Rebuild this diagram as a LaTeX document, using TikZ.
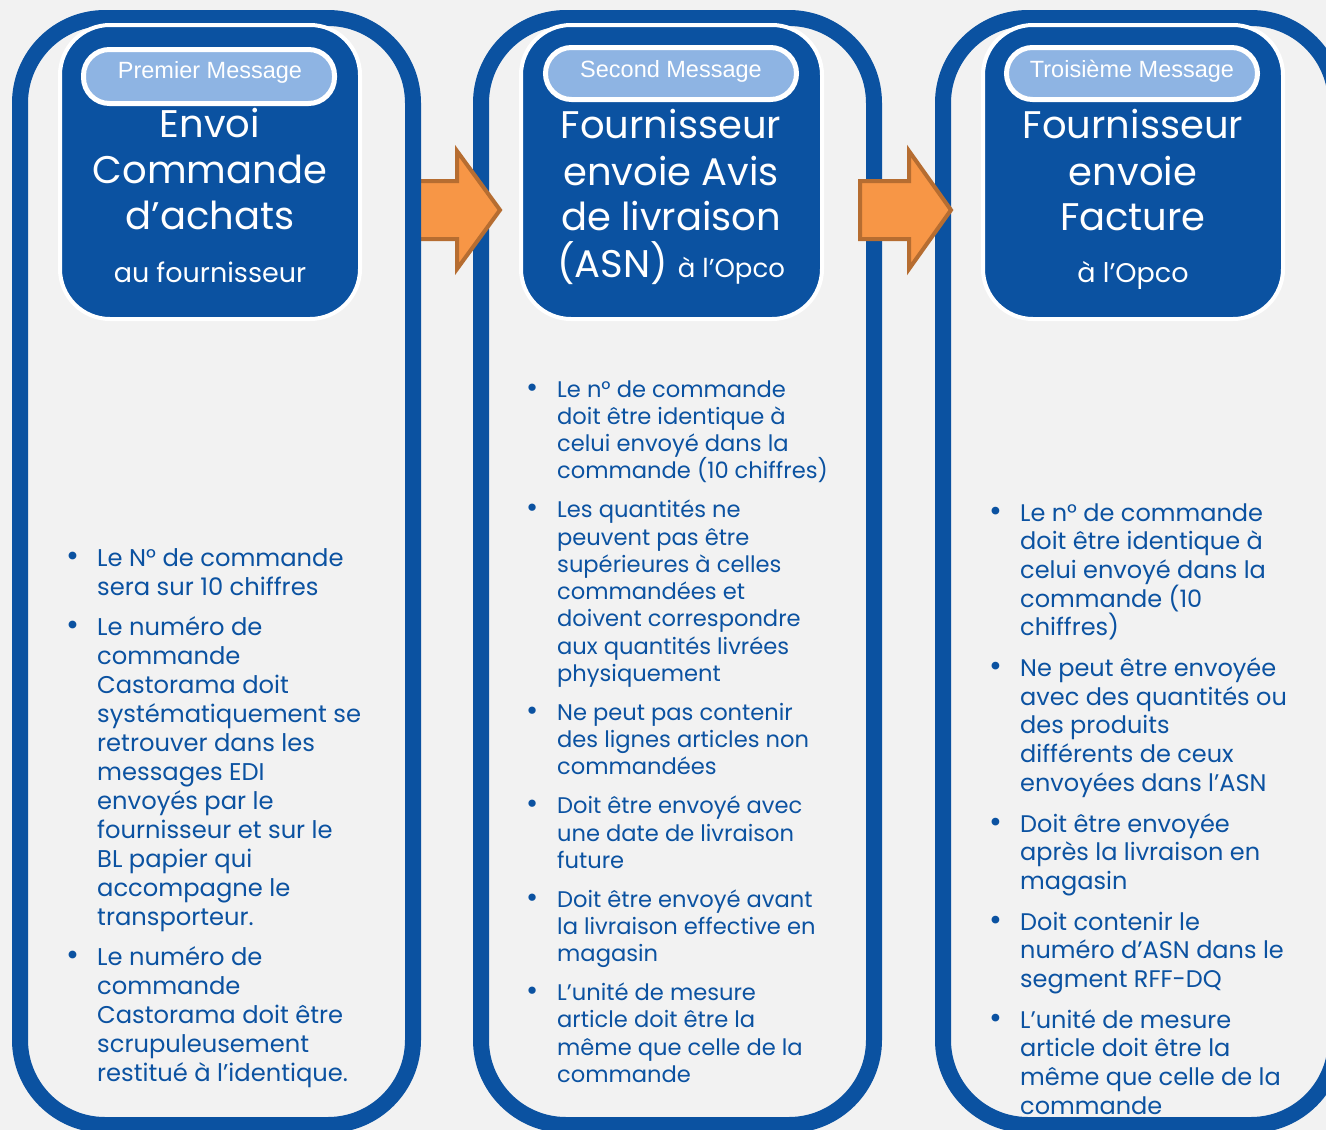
\documentclass[tikz,border=0pt]{standalone}
\usepackage{fontspec}
\setmainfont{Poppins}
\newfontfamily\pillfont{Liberation Sans}
\definecolor{dblue}{HTML}{0B52A1}
\definecolor{lblue}{HTML}{8EB4E3}
\definecolor{bgc}{HTML}{F2F2F2}
\definecolor{orng}{HTML}{F79646}
\definecolor{orngd}{HTML}{B66D31}
\newcommand\bpt{\par\noindent\hangindent=31pt\hangafter=1\makebox[31pt][l]{\scalebox{1.3}{\textbullet}}}
\newcommand\blist[4]{\vtop{\hsize=420pt\parindent=0pt\parskip=#3\fontsize{#1}{#2}\selectfont #4}}
\begin{document}
\begin{tikzpicture}[x=1pt,y=-1pt,
  panel/.style={draw=dblue, line width=16pt, rounded corners=85pt},
  titlebox/.style={fill=dblue, draw=white, line width=4pt, rounded corners=50pt},
  pill/.style={fill=lblue, draw=white, line width=5pt, rounded corners=26pt},
  pilltext/.style={text=white, font=\pillfont\fontsize{23.5}{23.5}\selectfont, anchor=base, inner sep=0pt},
  big/.style={text=white, font=\fontsize{38.5}{38.5}\selectfont, anchor=base, inner sep=0pt},
  small/.style={text=white, font=\fontsize{27}{27}\selectfont, anchor=base, inner sep=0pt},
  arr/.style={fill=orng, draw=orngd, line width=4pt, line join=miter},
  blisttext/.style={text=dblue, anchor=base west, inner sep=0pt}
]
\clip (0,0) rectangle (1326,1130);
\fill[bgc] (0,0) rectangle (1326,1130);
% panels 2 and 3
\draw[panel] (481,18) rectangle (874,1125);
\draw[panel] (943,18) rectangle (1336,1125);
% arrows
\filldraw[arr] (410,181) -- (457,181) -- (457,151) -- (500,210) -- (457,269) -- (457,239) -- (410,239) -- cycle;
\filldraw[arr] (860,181) -- (909,181) -- (909,151) -- (951,210) -- (909,269) -- (909,239) -- (860,239) -- cycle;
% panel 1
\draw[panel] (20,18) rectangle (413,1125);
% title boxes
\draw[titlebox] (60,25) rectangle (360,319);
\draw[titlebox] (521,25) rectangle (822,319);
\draw[titlebox] (983,25) rectangle (1283,319);
% pills
\draw[pill] (83.5,49.5) rectangle (334.5,103.5);
\draw[pill] (545.5,47.5) rectangle (796.5,99.5);
\draw[pill] (1006.5,47.5) rectangle (1257.5,99.5);
\node[pilltext] (p1) at (210,78) {Premier Message};
\node[pilltext] (p2) at (671,77) {Second Message};
\node[pilltext] (p3) at (1132,77) {Troisième Message};
% titles
\node[big] (t1a) at (210,137) {Envoi};
\node[big] (t1b) at (210,183) {Commande};
\node[big] (t1c) at (210,229) {d’achats};
\node[small] (t1d) at (210,282) {au fournisseur};
\node[big] (t2a) at (671,138) {Fournisseur};
\node[big] (t2b) at (671,185) {envoie Avis};
\node[big] (t2c) at (671,230) {de livraison};
\node[big] (t2d) at (671,277) {(ASN) {\fontsize{26}{26}\selectfont à l’Opco}};
\node[big] (t3a) at (1133,138) {Fournisseur};
\node[big] (t3b) at (1133,185) {envoie};
\node[big] (t3c) at (1133,230) {Facture};
\node[small] (t3d) at (1133,282) {à l’Opco};
% bullet lists
\node[blisttext] (b1) at (66,566) {\blist{24.2}{29}{11pt}{%
\bpt Le N° de commande\\sera sur 10 chiffres
\bpt Le numéro de\\commande\\Castorama doit\\systématiquement se\\retrouver dans les\\messages EDI\\envoyés par le\\fournisseur et sur le\\BL papier qui\\accompagne le\\transporteur.
\bpt Le numéro de\\commande\\Castorama doit être\\scrupuleusement\\restitué à l’identique.\par}};
\node[blisttext] (b2) at (526,397) {\blist{22.6}{27.3}{11.5pt}{%
\bpt Le n° de commande\\doit être identique à\\celui envoyé dans la\\commande (10 chiffres)
\bpt Les quantités ne\\peuvent pas être\\supérieures à celles\\commandées et\\doivent correspondre\\aux quantités livrées\\physiquement
\bpt Ne peut pas contenir\\des lignes articles non\\commandées
\bpt Doit être envoyé avec\\une date de livraison\\future
\bpt Doit être envoyé avant\\la livraison effective en\\magasin
\bpt L’unité de mesure\\article doit être la\\même que celle de la\\commande\par}};
\node[blisttext] (b3) at (989,521) {\blist{24}{28.7}{12pt}{%
\bpt Le n° de commande\\doit être identique à\\celui envoyé dans la\\commande (10\\chiffres)
\bpt Ne peut être envoyée\\avec des quantités ou\\des produits\\différents de ceux\\envoyées dans l’ASN
\bpt Doit être envoyée\\après la livraison en\\magasin
\bpt Doit contenir le\\numéro d’ASN dans le\\segment RFF-DQ
\bpt L’unité de mesure\\article doit être la\\même que celle de la\\commande\par}};
\end{tikzpicture}
\end{document}
